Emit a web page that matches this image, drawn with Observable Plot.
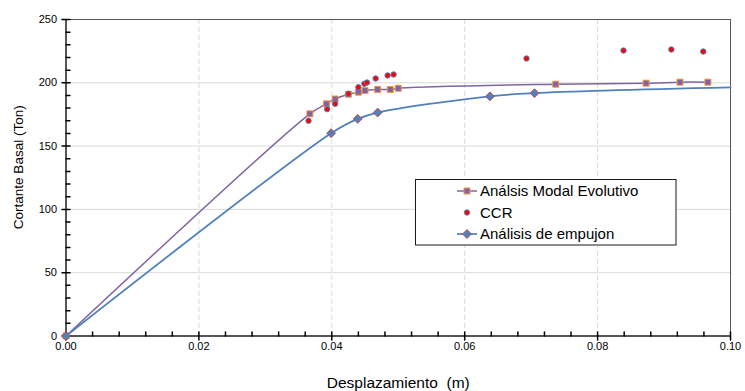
<!DOCTYPE html>
<html><head><meta charset="utf-8">
<script src="https://cdn.jsdelivr.net/npm/d3@7"></script>
<script src="https://cdn.jsdelivr.net/npm/@observablehq/plot@0.6"></script>
<style>
body{margin:0;background:#fff;}
#chart{position:relative;width:745px;height:391px;}
#chart svg{font-family:Arial,"Liberation Sans",sans-serif;}
</style></head><body><div id="chart"></div>
<script>
// ---- data ----
const modalX = [0, 0.0367, 0.0392, 0.0405, 0.0425, 0.0440, 0.0450, 0.0469, 0.0488, 0.0500, 0.0737, 0.0873, 0.0924, 0.0966];
const modalY = [0, 175.5, 183.4, 187.2, 191.0, 192.6, 193.9, 194.7, 194.7, 195.7, 198.9, 199.7, 200.5, 200.5];
const ccrX = [0, 0.0365, 0.0393, 0.0405, 0.0425, 0.0440, 0.0449, 0.0453, 0.0466, 0.0484, 0.0493, 0.0693, 0.0839, 0.0911, 0.0959];
const ccrY = [0, 170.0, 179.2, 183.4, 191.3, 196.5, 199.2, 200.2, 203.4, 205.8, 206.6, 219.2, 225.5, 226.3, 224.7];
const empX = [0, 0.0399, 0.0439, 0.0469, 0.0638, 0.0705];
const empY = [0, 160.2, 171.5, 176.5, 189.3, 191.8];
// the pushover curve continues (without markers) to the right edge
const empTailX = [0.1];
const empTailY = [196.3];
const xTicks = [0, 0.02, 0.04, 0.06, 0.08, 0.10];
const yTicks = [0, 50, 100, 150, 200, 250];
const seriesNames = ["Análsis Modal Evolutivo", "CCR", "Análisis de empujon"];
const xTitle = "Desplazamiento  (m)";
const yTitle = "Cortante Basal (Ton)";

// ---- tables ----
const modal = modalX.map((x, i) => ({x, y: modalY[i]}));
const ccr = ccrX.map((x, i) => ({x, y: ccrY[i]}));
const emp = empX.map((x, i) => ({x, y: empY[i]}));
const empLine = emp.concat(empTailX.map((x, i) => ({x, y: empTailY[i]})));

const yMinor = d3.range(0, 251, 10).filter(v => v % 50 !== 0);
const xMinor = d3.range(0, 25).map(i => i * 0.004).filter(v => Math.abs(v / 0.02 - Math.round(v / 0.02)) > 1e-6);

const seg = (x1, y1, x2, y2) => ({draw(ctx) { ctx.moveTo(x1, y1); ctx.lineTo(x2, y2); }});

const C = {purple: "#8064A2", orange: "#F79646", blue: "#4F81BD", red: "#C0504D"};

const plot = Plot.plot({
  width: 745, height: 391,
  marginLeft: 65.5, marginRight: 15, marginTop: 19, marginBottom: 55.5,
  x: {domain: [0, 0.1]},
  y: {domain: [0, 250]},
  style: {fontFamily: "Arial, 'Liberation Sans', sans-serif", background: "white", color: "#000"},
  marks: [
    Plot.ruleY(yTicks.filter(v => v > 0 && v < 250), {stroke: "#d9d9d9", strokeWidth: 1}),
    Plot.ruleX(xTicks.filter(v => v > 0 && v < 0.1), {stroke: "#d9d9d9", strokeWidth: 1, strokeDasharray: "5,3"}),
    Plot.frame({stroke: "#595959"}),
    Plot.ruleX([0], {stroke: "#000"}),
    Plot.ruleY([0], {stroke: "#000"}),
    Plot.vector(yTicks, {x: 0, y: d => d, anchor: "start", length: 8, shape: seg(-4, 0, 4, 0), stroke: "#000"}),
    Plot.vector(yMinor, {x: 0, y: d => d, anchor: "start", length: 4, shape: seg(0, 0, 4, 0), stroke: "#000"}),
    Plot.vector(xTicks, {x: d => d, y: 0, anchor: "start", length: 8, shape: seg(0, -4, 0, 4), stroke: "#000"}),
    Plot.vector(xMinor, {x: d => d, y: 0, anchor: "start", length: 4, shape: seg(0, 0, 0, -4), stroke: "#000"}),
    Plot.axisY({ticks: yTicks, tickSize: 0, tickPadding: 9, fontSize: 11, label: null}),
    Plot.axisX({ticks: xTicks, tickFormat: d3.format(".2f"), tickSize: 0, tickPadding: 6, fontSize: 11, label: null}),
    Plot.text([yTitle], {frameAnchor: "left", textAnchor: "middle", lineAnchor: "middle", dx: -47, dy: -10.5, rotate: -90, fontSize: 13.5, fill: "#000"}),
    Plot.text([xTitle], {frameAnchor: "bottom", textAnchor: "middle", lineAnchor: "middle", dy: 47.5, fontSize: 15.5, fill: "#000"}),
    // series
    Plot.line(modal, {x: "x", y: "y", curve: "catmull-rom", stroke: C.purple, strokeWidth: 1.5}),
    Plot.dot(modal, {x: "x", y: "y", symbol: "square", r: 3.4, fill: C.purple, stroke: C.orange, strokeWidth: 1}),
    Plot.dot(ccr, {x: "x", y: "y", r: 2.7, fill: "#FF0000", stroke: C.blue, strokeWidth: 1}),
    Plot.line(empLine, {x: "x", y: "y", curve: "catmull-rom", stroke: C.blue, strokeWidth: 1.75}),
    Plot.dot(emp, {x: "x", y: "y", symbol: "diamond2", r: 4.0, fill: C.blue, stroke: C.red, strokeWidth: 1})
  ]
});
document.getElementById("chart").appendChild(plot);

// ---- legend (inside the plot area, upper middle-right) ----
const svg = d3.select(plot);
const lg = svg.append("g").attr("font-family", "Arial, 'Liberation Sans', sans-serif").attr("font-size", 15).attr("text-anchor", "start");
lg.append("rect").attr("x", 415.5).attr("y", 179.5).attr("width", 260.5).attr("height", 65.5)
  .attr("fill", "white").attr("stroke", "#1a1a1a").attr("stroke-width", 1);
const rows = [191, 212.5, 234];
const symSq = d3.symbol(d3.symbolSquare, Math.PI * 3.4 * 3.4)();
const symDi = d3.symbol(d3.symbolDiamond2, Math.PI * 4 * 4)();
seriesNames.forEach((name, i) => {
  const y = rows[i];
  const g = lg.append("g");
  if (i === 0) {
    g.append("line").attr("x1", 457).attr("x2", 477).attr("y1", y).attr("y2", y).attr("stroke", C.purple).attr("stroke-width", 1.5);
    g.append("path").attr("d", symSq).attr("transform", `translate(467,${y})`).attr("fill", C.purple).attr("stroke", C.orange);
  } else if (i === 1) {
    g.append("circle").attr("cx", 467).attr("cy", y).attr("r", 2.7).attr("fill", "#FF0000").attr("stroke", C.blue);
  } else {
    g.append("line").attr("x1", 457).attr("x2", 477).attr("y1", y).attr("y2", y).attr("stroke", C.blue).attr("stroke-width", 1.75);
    g.append("path").attr("d", symDi).attr("transform", `translate(467,${y})`).attr("fill", C.blue).attr("stroke", C.red);
  }
  g.append("text").attr("x", 480).attr("y", y).attr("dy", "0.35em").attr("text-anchor", "start").attr("fill", "#000").text(name);
});
</script>
</body></html>
